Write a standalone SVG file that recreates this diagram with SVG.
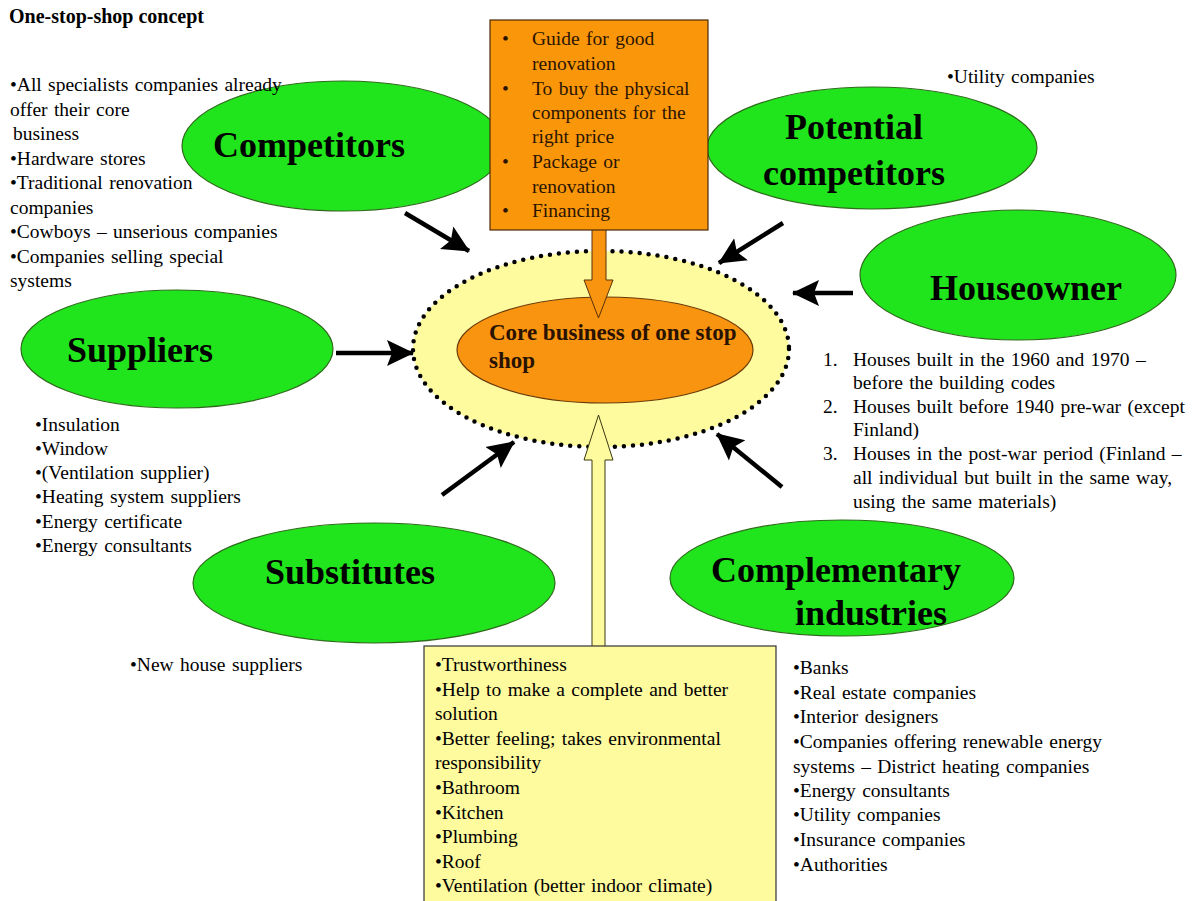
<svg xmlns="http://www.w3.org/2000/svg" width="1195" height="901" viewBox="0 0 1195 901">
<style>
.bg{fill:#ffffff}
.green{fill:#20e51c;stroke:#2f6a1c;stroke-width:1.2}
.lbl{font-family:"Liberation Serif",serif;font-weight:bold;font-size:36px;fill:#000}
.t{font-family:"Liberation Serif",serif;font-size:19.5px;word-spacing:1.5px;fill:#000}
.tb{font-family:"Liberation Serif",serif;font-size:20px;font-weight:bold;fill:#000}
.ot{font-family:"Liberation Serif",serif;font-size:19.5px;word-spacing:1.5px;fill:#2a1400}
.core{font-family:"Liberation Serif",serif;font-size:23px;font-weight:bold;fill:#2a1200}
.conn{stroke:#000;stroke-width:4.5;fill:none}
</style>
<defs>
<marker id="ah" markerUnits="userSpaceOnUse" markerWidth="28" markerHeight="28" viewBox="0 0 28 28" refX="26" refY="14" orient="auto">
<path d="M0,1 L27,14 L0,27 L5,14 Z" fill="#000"/>
</marker>
</defs>
<rect class="bg" x="0" y="0" width="1195" height="901"/>

<g id="title"><text class="tb" x="9" y="23">One-stop-shop concept</text></g>

<g id="competitors">
<ellipse class="green" cx="343" cy="146" rx="161" ry="65"/>
<text class="lbl" x="213" y="157">Competitors</text>
</g>
<g id="competitors-notes">
<text class="t" x="10" y="91">•All specialists companies already</text>
<text class="t" x="10" y="115.5">offer their core</text>
<text class="t" x="13" y="140"> business</text>
<text class="t" x="10" y="164.5">•Hardware stores</text>
<text class="t" x="10" y="189">•Traditional renovation</text>
<text class="t" x="10" y="213.5">companies</text>
<text class="t" x="10" y="238">•Cowboys – unserious companies</text>
<text class="t" x="10" y="262.5">•Companies selling special</text>
<text class="t" x="10" y="287">systems</text>
</g>

<g id="potential">
<ellipse class="green" cx="872" cy="148" rx="165" ry="61"/>
<text class="lbl" x="854" y="139" text-anchor="middle">Potential</text>
<text class="lbl" x="854" y="185" text-anchor="middle">competitors</text>
</g>
<g id="potential-notes"><text class="t" x="947" y="83">•Utility companies</text></g>

<g id="houseowner">
<ellipse class="green" cx="1018" cy="275" rx="158" ry="65"/>
<text class="lbl" x="1026" y="300" text-anchor="middle">Houseowner</text>
</g>
<g id="houseowner-notes">
<text class="t" x="823" y="366">1.</text>
<text class="t" x="853" y="366">Houses built in the 1960 and 1970 –</text>
<text class="t" x="853" y="389">before the building codes</text>
<text class="t" x="823" y="413">2.</text>
<text class="t" x="853" y="413">Houses built before 1940 pre-war (except</text>
<text class="t" x="853" y="436">Finland)</text>
<text class="t" x="823" y="460">3.</text>
<text class="t" x="853" y="460">Houses in the post-war period (Finland –</text>
<text class="t" x="853" y="484">all individual but built in the same way,</text>
<text class="t" x="853" y="508">using the same materials)</text>
</g>

<g id="suppliers">
<ellipse class="green" cx="177" cy="349" rx="156" ry="59"/>
<text class="lbl" x="140" y="362" text-anchor="middle">Suppliers</text>
</g>
<g id="suppliers-notes">
<text class="t" x="35" y="431">•Insulation</text>
<text class="t" x="35" y="455">•Window</text>
<text class="t" x="35" y="479">•(Ventilation supplier)</text>
<text class="t" x="35" y="503">•Heating system suppliers</text>
<text class="t" x="35" y="528">•Energy certificate</text>
<text class="t" x="35" y="552">•Energy consultants</text>
</g>

<g id="substitutes">
<ellipse class="green" cx="374" cy="583" rx="181" ry="60"/>
<text class="lbl" x="350" y="584" text-anchor="middle">Substitutes</text>
</g>
<g id="substitutes-notes"><text class="t" x="130" y="671">•New house suppliers</text></g>

<g id="complementary">
<ellipse class="green" cx="842" cy="578" rx="172" ry="58"/>
<text class="lbl" x="836" y="582" text-anchor="middle">Complementary</text>
<text class="lbl" x="871" y="625" text-anchor="middle">industries</text>
</g>
<g id="complementary-notes">
<text class="t" x="793" y="674">•Banks</text>
<text class="t" x="793" y="699">•Real estate companies</text>
<text class="t" x="793" y="723">•Interior designers</text>
<text class="t" x="793" y="748">•Companies offering renewable energy</text>
<text class="t" x="793" y="773">systems – District heating companies</text>
<text class="t" x="793" y="797">•Energy consultants</text>
<text class="t" x="793" y="821">•Utility companies</text>
<text class="t" x="793" y="846">•Insurance companies</text>
<text class="t" x="793" y="871">•Authorities</text>
</g>

<g id="center">
<ellipse cx="601" cy="349" rx="188" ry="98" fill="#fefa9e" stroke="#000" stroke-width="4.5" stroke-linecap="round" stroke-dasharray="0 9"/>
<ellipse cx="605" cy="350" rx="148" ry="53" fill="#f99410" stroke="#6b3a08" stroke-width="1.2"/>
<text class="core" x="489" y="340">Core business of one stop</text>
<text class="core" x="489" y="368">shop</text>
</g>

<g id="connectors">
<polygon points="592,229 606,229 606,280 613,280 598.5,318 584,280 592,280" fill="#f99410" stroke="#5a3008" stroke-width="1"/>
<polygon points="592,647 592,460 584,460 598.5,415 613,460 605,460 605,647" fill="#fefa9e" stroke="#3a3a10" stroke-width="1"/>
<line class="conn" x1="405" y1="213" x2="469" y2="251" marker-end="url(#ah)"/>
<line class="conn" x1="783" y1="223" x2="719" y2="263" marker-end="url(#ah)"/>
<line class="conn" x1="853" y1="293" x2="793" y2="293" marker-end="url(#ah)"/>
<line class="conn" x1="336" y1="353" x2="413" y2="353" marker-end="url(#ah)"/>
<line class="conn" x1="442" y1="495" x2="514" y2="442" marker-end="url(#ah)"/>
<line class="conn" x1="782" y1="487" x2="717" y2="434" marker-end="url(#ah)"/>
</g>

<g id="offer-box">
<rect x="490" y="20" width="218" height="210" fill="#fa960a" stroke="#4a2a08" stroke-width="1.2"/>
<text class="ot" x="502" y="45">•</text>
<text class="ot" x="532" y="45">Guide for good</text>
<text class="ot" x="532" y="70">renovation</text>
<text class="ot" x="502" y="95">•</text>
<text class="ot" x="532" y="95">To buy the physical</text>
<text class="ot" x="532" y="119">components for the</text>
<text class="ot" x="532" y="143">right price</text>
<text class="ot" x="502" y="168">•</text>
<text class="ot" x="532" y="168">Package or</text>
<text class="ot" x="532" y="193">renovation</text>
<text class="ot" x="502" y="217">•</text>
<text class="ot" x="532" y="217">Financing</text>
</g>

<g id="value-box">
<rect x="424" y="646" width="352" height="262" fill="#fefa9e" stroke="#333" stroke-width="1.2"/>
<text class="t" x="435" y="671">•Trustworthiness</text>
<text class="t" x="435" y="696">•Help to make a complete and better</text>
<text class="t" x="435" y="720">solution</text>
<text class="t" x="435" y="745">•Better feeling; takes environmental</text>
<text class="t" x="435" y="769">responsibility</text>
<text class="t" x="435" y="794">•Bathroom</text>
<text class="t" x="435" y="819">•Kitchen</text>
<text class="t" x="435" y="843">•Plumbing</text>
<text class="t" x="435" y="868">•Roof</text>
<text class="t" x="435" y="892">•Ventilation (better indoor climate)</text>
</g>
</svg>
